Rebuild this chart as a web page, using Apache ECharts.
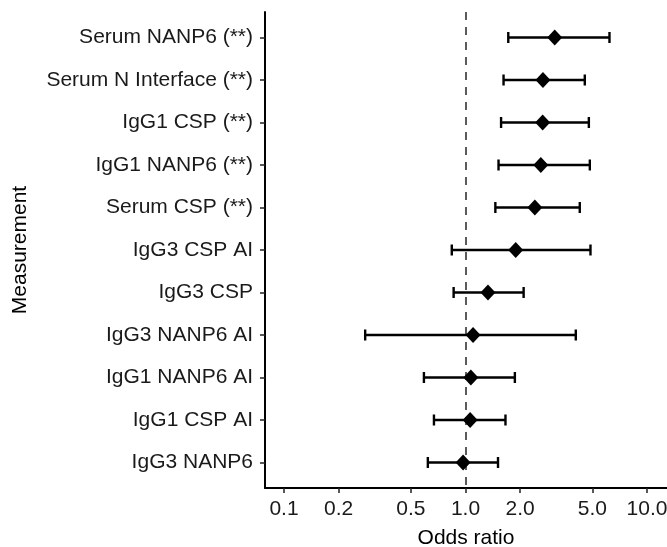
<!DOCTYPE html>
<html>
<head>
<meta charset="utf-8">
<script src="https://cdn.jsdelivr.net/npm/echarts@6/dist/echarts.min.js"></script>
<style>
  html, body { margin: 0; padding: 0; background: #fff; }
  #chart { width: 667px; height: 547px; }
</style>
</head>
<body>
<div id="chart"></div>
<script>
// rows, top to bottom
var measurements = [
    'Serum NANP6 (**)', 'Serum N Interface (**)', 'IgG1 CSP (**)', 'IgG1 NANP6 (**)',
    'Serum CSP (**)', 'IgG3 CSP AI', 'IgG3 CSP', 'IgG3 NANP6 AI',
    'IgG1 NANP6 AI', 'IgG1 CSP AI', 'IgG3 NANP6'
];
var oddsRatio = [3.10, 2.67, 2.66, 2.60, 2.41, 1.89, 1.33, 1.10, 1.07, 1.06, 0.97];
var ciLower = [1.72, 1.62, 1.57, 1.52, 1.46, 0.84, 0.86, 0.28, 0.59, 0.67, 0.62];
var ciUpper = [6.21, 4.54, 4.78, 4.84, 4.26, 4.88, 2.09, 4.05, 1.87, 1.66, 1.51];
var tickValues = [0.1, 0.2, 0.5, 1, 2, 5, 10];

var chart = echarts.init(document.getElementById('chart'), null, { renderer: 'canvas' });

// log scale done by hand: axis works in log10 units
var lg = function (v) { return Math.log10(v); };
var rowIdx = measurements.map(function (m, i) { return i + 1; });

var points = oddsRatio.map(function (v, i) { return [lg(v), i + 1]; });
var bars = ciLower.map(function (lo, i) { return [lg(lo), lg(ciUpper[i]), i + 1]; });

var txt = { fontFamily: 'Liberation Sans', fontSize: 21, color: '#1a1a1a' };

var option = {
    backgroundColor: '#fff',
    animation: false,
    grid: { left: 265, right: 0, top: 12, bottom: 59, outerBoundsMode: 'none', containLabel: false },
    xAxis: {
        type: 'value',
        min: -1.1047,
        max: 1.110,
        name: 'Odds ratio',
        nameLocation: 'middle',
        nameGap: 40,
        nameTextStyle: { fontFamily: 'Liberation Sans', fontSize: 21, color: '#000' },
        axisLine: { onZero: false, lineStyle: { color: '#000', width: 2 } },
        axisTick: { length: 5, lineStyle: { color: '#222', width: 1.5 }, customValues: tickValues.map(lg) },
        axisLabel: Object.assign({
            margin: 11,
            customValues: tickValues.map(lg),
            formatter: function (v) { return Math.pow(10, v).toFixed(1); }
        }, txt),
        splitLine: { show: false }
    },
    yAxis: {
        type: 'value',
        inverse: true,
        min: 0.4,
        max: 11.6,
        name: 'Measurement',
        nameLocation: 'middle',
        nameGap: 234,
        nameTextStyle: { fontFamily: 'Liberation Sans', fontSize: 21, color: '#000' },
        axisLine: { onZero: false, lineStyle: { color: '#000', width: 2 } },
        axisTick: { length: 5, lineStyle: { color: '#222', width: 1.5 }, customValues: rowIdx },
        axisLabel: Object.assign({
            margin: 12,
            customValues: rowIdx,
            formatter: function (v) { return measurements[Math.round(v) - 1]; }
        }, txt),
        splitLine: { show: false }
    },
    series: [
        {
            type: 'custom',
            data: bars,
            encode: { x: [0, 1], y: 2 },
            renderItem: function (params, api) {
                var a = api.coord([api.value(0), api.value(2)]);
                var b = api.coord([api.value(1), api.value(2)]);
                var h = 5.5;
                var st = { stroke: '#000', lineWidth: 2.4 };
                return {
                    type: 'group',
                    children: [
                        { type: 'line', shape: { x1: a[0], y1: a[1], x2: b[0], y2: b[1] }, style: st },
                        { type: 'line', shape: { x1: a[0], y1: a[1] - h, x2: a[0], y2: a[1] + h }, style: st },
                        { type: 'line', shape: { x1: b[0], y1: b[1] - h, x2: b[0], y2: b[1] + h }, style: st }
                    ]
                };
            },
            z: 3
        },
        {
            type: 'scatter',
            data: points,
            symbol: 'diamond',
            symbolSize: [15, 16],
            itemStyle: { color: '#000', opacity: 1 },
            z: 4,
            markLine: {
                silent: true,
                symbol: 'none',
                label: { show: false },
                lineStyle: { color: '#4a4a4a', width: 1.8, type: [8, 7] },
                data: [{ xAxis: 0 }],
                z: 2
            }
        }
    ]
};

chart.setOption(option);
</script>
</body>
</html>
